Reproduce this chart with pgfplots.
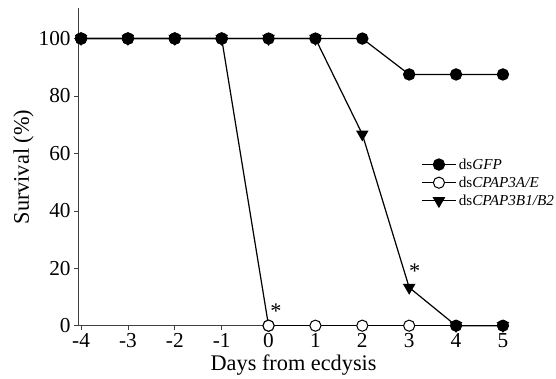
\documentclass[border=0pt]{standalone}
\usepackage{pgfplots}
\pgfplotsset{compat=1.18}
\usepackage{fontspec}
\setmainfont{Liberation Serif}
\begin{document}
\begin{tikzpicture}
\begin{axis}[
  scale only axis,
  width=425pt, height=313pt,
  xmin=-4.06, xmax=5.13,
  ymin=0, ymax=110.5,
  axis lines*=left,
  axis line style={line width=0.6pt, draw=black!75},
  xtick={-4,...,5}, ytick={0,20,40,60,80,100},
  tick align=outside,
  major tick length=4pt,
  tick style={line width=0.6pt, black!75},
  ticklabel style={font=\fontsize{21}{24}\selectfont},
  /pgf/number format/assume math mode=true,
  xlabel={Days from ecdysis},
  ylabel={Survival (\%)},
  label style={font=\fontsize{22}{25}\selectfont},
  ylabel style={yshift=-2pt},
  clip=false,
  legend style={draw=none, fill=none, at={(axis cs:3.25,59)}, anchor=north west,
    font=\fontsize{15}{18}\selectfont, row sep=2pt, inner sep=0pt},
  legend cell align=left,
  legend image code/.code={\draw[mark repeat=2,mark phase=2,#1] plot coordinates {(0pt,0pt)(17pt,0pt)(34pt,0pt)};},
]
\addplot[line width=1.2pt, black, mark=*, mark size=5.5pt, mark options={fill=black}]
  coordinates {(-4,100)(-3,100)(-2,100)(-1,100)(0,100)(1,100)(2,100)(3,87.5)(4,87.5)(5,87.5)};
\addlegendentry{ds\textit{GFP}}
\addplot[line width=1.2pt, black, mark=*, mark size=5.5pt, mark options={fill=white, line width=1pt}]
  coordinates {(0,0)(1,0)(2,0)(3,0)(4,0)(5,0)};
\addlegendentry{ds\textit{CPAP3A/E}}
\addplot[line width=1.2pt, black, mark=triangle*, mark size=6pt, mark options={rotate=180, fill=black}]
  coordinates {(-4,100)(-3,100)(-2,100)(-1,100)(0,100)(1,100)(2,66.7)(3,13.3)(4,0)(5,0)};
\addlegendentry{ds\textit{CPAP3B1/B2}}
\addplot[line width=1.2pt, black, mark=*, mark size=5.5pt, mark options={fill=white, line width=1pt}, forget plot]
  coordinates {(-4,100)(-3,100)(-2,100)(-1,100)(0,0)};
\addplot[line width=1.2pt, black, mark=*, mark size=5.5pt, mark options={fill=black}, forget plot]
  coordinates {(-4,100)(-3,100)(-2,100)(-1,100)};
\addplot[only marks, black, mark=*, mark size=5.5pt, mark options={fill=black}, forget plot]
  coordinates {(4,0)(5,0)};
\node[font=\fontsize{22}{24}\selectfont, anchor=north, inner sep=0pt] at (axis cs:0.16,7.5) {*};
\node[font=\fontsize{22}{24}\selectfont, anchor=north, inner sep=0pt] at (axis cs:3.12,21.5) {*};
\end{axis}
\path (current axis.outer north west) ++(-10pt,8pt) rectangle ++(1pt,-1pt);
\end{tikzpicture}
\end{document}
